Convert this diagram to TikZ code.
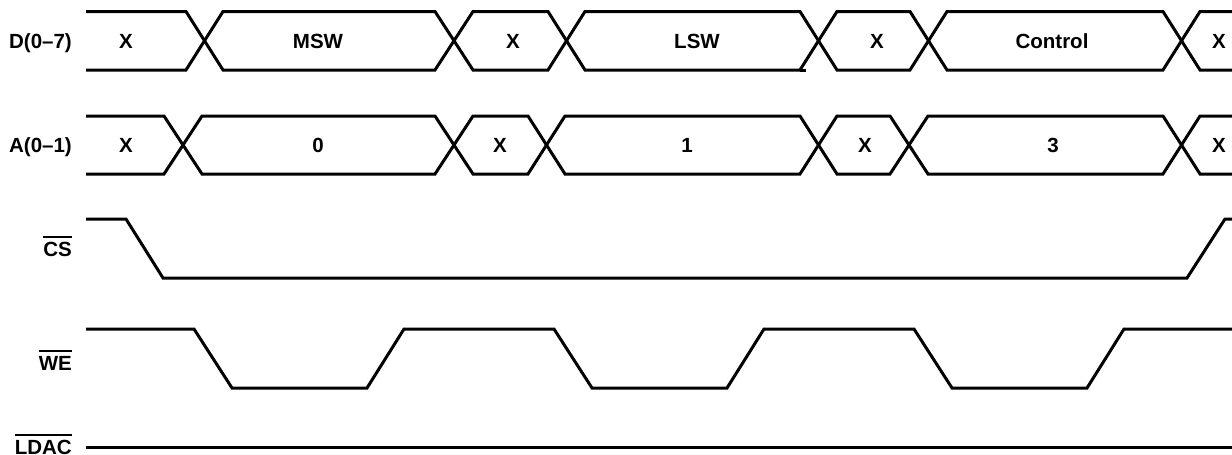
\documentclass[tikz,border=0pt]{standalone}
\usepackage{fontspec}
\setmainfont{Liberation Sans}
\newcommand\ovl[1]{\setbox0\hbox{#1}\rlap{\raisebox{18pt}{\rule{\wd0}{2.5pt}}}\box0}
\begin{document}
\begin{tikzpicture}[x=1pt,y=-1pt,
  sig/.style={line width=3pt, line join=miter, line cap=butt},
  lbl/.style={font=\bfseries\fontsize{20.5}{24}\selectfont, inner sep=0pt, anchor=base east},
  val/.style={font=\bfseries\fontsize{20.5}{24}\selectfont, inner sep=0pt, anchor=base}]
\useasboundingbox (0,0) rectangle (1232,455);
% D(0-7) bus
\def\T{11.5}\def\B{70}
\draw[sig] (86,\T)--(186,\T)--(223,\B)--(435,\B)--(473,\T)--(548,\T)--(585,\B)--(800,\B)--(837,\T)--(910,\T)--(947,\B)--(1163,\B)--(1200,\T)--(1235,\T);
\draw[sig] (86,\B)--(186,\B)--(223,\T)--(435,\T)--(473,\B)--(548,\B)--(585,\T)--(800,\T)--(837,\B)--(910,\B)--(947,\T)--(1163,\T)--(1200,\B)--(1235,\B);
\draw[sig] (800,\B)--(806,\B);
% A(0-1) bus
\def\T{116}\def\B{174}
\draw[sig] (86,\T)--(164,\T)--(202,\B)--(435,\B)--(473,\T)--(528,\T)--(565,\B)--(800,\B)--(837,\T)--(890,\T)--(928,\B)--(1163,\B)--(1200,\T)--(1235,\T);
\draw[sig] (86,\B)--(164,\B)--(202,\T)--(435,\T)--(473,\B)--(528,\B)--(565,\T)--(800,\T)--(837,\B)--(890,\B)--(928,\T)--(1163,\T)--(1200,\B)--(1235,\B);
% CS
\draw[sig] (86,219)--(126,219)--(163,278)--(1187,278)--(1225,219)--(1235,219);
% WE
\draw[sig] (86,329)--(194,329)--(232,388)--(367,388)--(404,329)--(554,329)--(592,388)--(727,388)--(764,329)--(914,329)--(952,388)--(1087,388)--(1124,329)--(1235,329);
% LDAC
\draw[sig] (86,447)--(1235,447);
% labels
\node[lbl] (ld) at (72,48.5) {D(0–7)};
\node[lbl] (la) at (72,152.5) {A(0–1)};
\node[lbl] (lcs) at (72,256) {\ovl{CS}};
\node[lbl] (lwe) at (72,370) {\ovl{WE}};
\node[lbl] (lldac) at (72,454) {\ovl{LDAC}};
% D values
\node[val] (d1) at (126,48.5) {X};
\node[val] (d2) at (318,48.5) {MSW};
\node[val] (d3) at (513,48.5) {X};
\node[val] (d4) at (697,48.5) {LSW};
\node[val] (d5) at (877,48.5) {X};
\node[val] (d6) at (1052,48.5) {Control};
\node[val] (d7) at (1219,48.5) {X};
% A values
\node[val] (a1) at (126,152.5) {X};
\node[val] (a2) at (318,152.5) {0};
\node[val] (a3) at (500,152.5) {X};
\node[val] (a4) at (687,152.5) {1};
\node[val] (a5) at (865,152.5) {X};
\node[val] (a6) at (1053,152.5) {3};
\node[val] (a7) at (1219,152.5) {X};
\end{tikzpicture}
\end{document}
